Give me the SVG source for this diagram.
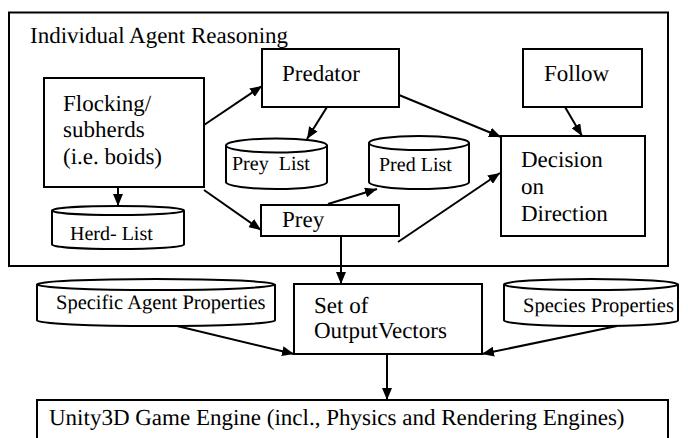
<svg xmlns="http://www.w3.org/2000/svg" width="688" height="438" viewBox="0 0 688 438">
<style>
  .box{fill:#fff;stroke:#000;stroke-width:2}
  .cyl{fill:#fff;stroke:#000;stroke-width:2}
  text{font-family:"Liberation Serif",serif;fill:#000;text-rendering:geometricPrecision}
  .b{font-size:23px}
  .m{font-size:20px}
  .n{font-size:20.5px}
  .c line{stroke:#000;stroke-width:2;marker-end:url(#ah)}
</style>
<defs>
  <marker id="ah" viewBox="0 0 12 10" refX="12" refY="5" markerWidth="12" markerHeight="10" markerUnits="userSpaceOnUse" orient="auto">
    <path d="M0,0 L12,5 L0,10 Z" fill="#000"/>
  </marker>
</defs>
<rect width="688" height="438" fill="#fff"/>
<g id="reasoning">
  <rect class="box" x="9" y="12.5" width="659" height="253.5"/>
  <text class="b" x="30" y="43">Individual Agent Reasoning</text>
</g>
<g id="predator">
  <rect class="box" x="262" y="49" width="137" height="58"/>
  <text class="b" x="282" y="81">Predator</text>
</g>
<g id="follow">
  <rect class="box" x="523" y="49" width="119" height="58"/>
  <text class="b" x="544" y="81">Follow</text>
</g>
<g id="flocking">
  <rect class="box" x="44" y="78" width="160" height="109"/>
  <text class="b" x="63" y="111">Flocking/</text>
  <text class="b" x="63" y="137">subherds</text>
  <text class="b" x="63" y="164">(i.e. boids)</text>
</g>
<g id="preylist">
  <path class="cyl" d="M226,145.5 L226,182 A50.5,7 0 0 0 327,182 L327,145.5 A50.5,7 0 0 0 226,145.5 A50.5,7 0 0 0 327,145.5"/>
  <text class="m" x="232" y="170" style="white-space:pre">Prey  List</text>
</g>
<g id="predlist">
  <path class="cyl" d="M369,143 L369,182 A50,7 0 0 0 469,182 L469,143 A50,7 0 0 0 369,143 A50,7 0 0 0 469,143"/>
  <text class="m" x="379" y="171">Pred List</text>
</g>
<g id="decision">
  <rect class="box" x="501" y="136" width="144" height="100"/>
  <text class="b" x="521" y="167">Decision</text>
  <text class="b" x="521" y="194">on</text>
  <text class="b" x="521" y="221">Direction</text>
</g>
<g id="prey">
  <rect class="box" x="261" y="205" width="138" height="31"/>
  <text class="b" x="282" y="227">Prey</text>
</g>
<g id="herdlist">
  <path class="cyl" d="M52,210.5 L52,244.5 A66,4.5 0 0 0 184,244.5 L184,210.5 A66,4.5 0 0 0 52,210.5 A66,4.5 0 0 0 184,210.5"/>
  <text class="m" x="70" y="240">Herd- List</text>
</g>
<g id="agentprops">
  <path class="cyl" d="M37,284.5 L37,320.5 A119,5.5 0 0 0 275,320.5 L275,284.5 A119,5.5 0 0 0 37,284.5 A119,5.5 0 0 0 275,284.5"/>
  <text class="n" x="56" y="309">Specific Agent Properties</text>
</g>
<g id="outputvectors">
  <rect class="box" x="294" y="284" width="188" height="70"/>
  <text class="b" x="314" y="313">Set of</text>
  <text class="b" x="314" y="338">OutputVectors</text>
</g>
<g id="speciesprops">
  <path class="cyl" d="M504,284.5 L504,320.5 A87,5.5 0 0 0 678,320.5 L678,284.5 A87,5.5 0 0 0 504,284.5 A87,5.5 0 0 0 678,284.5"/>
  <text class="n" x="523" y="312">Species Properties</text>
</g>
<g id="unity">
  <rect class="box" x="37" y="400" width="631" height="40"/>
  <text class="b" x="49" y="425">Unity3D Game Engine (incl., Physics and Rendering Engines)</text>
</g>
<g id="connectors" class="c">
  <line x1="204" y1="125" x2="262" y2="86"/>
  <line x1="327" y1="107" x2="307" y2="139"/>
  <line x1="118" y1="187" x2="118" y2="206"/>
  <line x1="204" y1="190" x2="261" y2="230"/>
  <line x1="399" y1="95" x2="501" y2="137"/>
  <line x1="565" y1="107" x2="582" y2="136"/>
  <line x1="328" y1="204" x2="377" y2="189"/>
  <line x1="398" y1="242" x2="500" y2="173"/>
  <line x1="341" y1="236" x2="341" y2="284"/>
  <line x1="177" y1="326" x2="294" y2="354"/>
  <line x1="617" y1="326" x2="482" y2="354"/>
  <line x1="387" y1="354" x2="387" y2="400"/>
</g>
</svg>
